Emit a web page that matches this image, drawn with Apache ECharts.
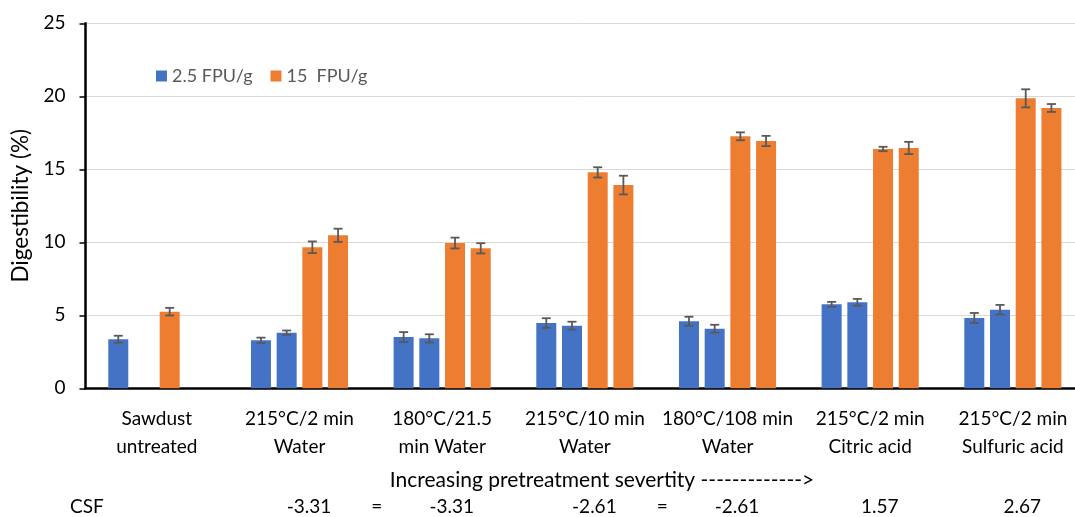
<!DOCTYPE html>
<html>
<head>
<meta charset="utf-8">
<script src="https://cdn.jsdelivr.net/npm/echarts@6/dist/echarts.min.js"></script>
<style>
  html, body { margin: 0; padding: 0; background: #fff; }
  #chart { width: 1075px; height: 517px; }
</style>
</head>
<body>
<div id="chart"></div>
<script>
// Pretreatment conditions (x categories)
const categories = [
  'Sawdust\nuntreated',
  '215°C/2 min\nWater',
  '180°C/21.5\nmin Water',
  '215°C/10 min\nWater',
  '180°C/108 min\nWater',
  '215°C/2 min\nCitric acid',
  '215°C/2 min\nSulfuric acid'
];

// Combined severity factor shown under each condition
const csfLabels = ['', '-3.31', '-3.31', '-2.61', '-2.61', '1.57', '2.67'];
// Pairs of conditions with equal CSF (an "=" sits between them)
const equalPairs = [[1, 2], [3, 4]];

const yTicks = { min: 0, max: 25, step: 5 };

// Digestibility (%) — two replicates per enzyme loading
const low1 = [3.36, 3.29, 3.51, 4.47, 4.59, 5.75, 4.82];
const low2 = [null, 3.81, 3.42, 4.29, 4.08, 5.89, 5.38];
const high1 = [5.25, 9.66, 9.95, 14.79, 17.26, 16.39, 19.86];
const high2 = [null, 10.48, 9.59, 13.92, 16.94, 16.46, 19.20];

// Standard deviations
const low1Err = [0.24, 0.18, 0.34, 0.33, 0.31, 0.17, 0.34];
const low2Err = [null, 0.15, 0.28, 0.27, 0.27, 0.23, 0.33];
const high1Err = [0.26, 0.40, 0.37, 0.35, 0.27, 0.15, 0.62];
const high2Err = [null, 0.45, 0.35, 0.64, 0.35, 0.42, 0.27];

const LOW_NAME = '2.5 FPU/g';
const HIGH_NAME = '15  FPU/g';
const BLUE = '#4472C4';
const ORANGE = '#ED7D31';
const FONT = 'Lato, "Liberation Sans", sans-serif';

const BAR_W = 20;
const BAR_GAP = 0.285;               // fraction of bar width between bars
const STEP = BAR_W * (1 + BAR_GAP);  // centre-to-centre distance of bars in a group

const barSets = [
  { name: LOW_NAME, color: BLUE, values: low1, errors: low1Err },
  { name: LOW_NAME, color: BLUE, values: low2, errors: low2Err },
  { name: HIGH_NAME, color: ORANGE, values: high1, errors: high1Err },
  { name: HIGH_NAME, color: ORANGE, values: high2, errors: high2Err }
];

const barSeries = barSets.map(s => ({
  type: 'bar',
  name: s.name,
  data: s.values,
  barWidth: BAR_W,
  barGap: (BAR_GAP * 100) + '%',
  itemStyle: { color: s.color },
  xAxisIndex: 0,
  yAxisIndex: 0,
  z: 2
}));

// Whisker series drawn over each bar slot
const errorSeries = barSets.map((s, slot) => ({
  type: 'custom',
  name: 'err' + slot,
  xAxisIndex: 0,
  yAxisIndex: 0,
  z: 5,
  silent: true,
  data: s.values.map((v, i) => (v == null ? [i, null, null] : [i, v, s.errors[i]])),
  renderItem: function (params, api) {
    const v = api.value(1);
    const e = api.value(2);
    if (v == null || isNaN(v) || e == null || isNaN(e)) return;
    const off = (slot - (barSets.length - 1) / 2) * STEP;
    const top = api.coord([api.value(0), v + e]);
    const bot = api.coord([api.value(0), v - e]);
    const x = top[0] + off;
    const cap = 4.5;
    const style = { stroke: '#595959', lineWidth: 1.8 };
    return {
      type: 'group',
      children: [
        { type: 'line', shape: { x1: x, y1: top[1], x2: x, y2: bot[1] }, style: style },
        { type: 'line', shape: { x1: x - cap, y1: top[1], x2: x + cap, y2: top[1] }, style: style },
        { type: 'line', shape: { x1: x - cap, y1: bot[1], x2: x + cap, y2: bot[1] }, style: style }
      ]
    };
  },
  encode: { x: 0, y: 1 }
}));

const chart = echarts.init(document.getElementById('chart'), null, { renderer: 'canvas' });

const option = {
  animation: false,
  backgroundColor: '#fff',
  textStyle: { fontFamily: FONT },
  // plot area runs a little past the right edge of the canvas
  grid: {
    left: 85.5, width: 998.7, top: 23.3, bottom: 128.7,
    containLabel: false,
    outerBoundsMode: 'none'
  },
  legend: {
    data: [LOW_NAME, HIGH_NAME],
    left: 151,
    top: 62,
    icon: 'rect',
    itemWidth: 11,
    itemHeight: 11,
    itemGap: 18,
    textStyle: { fontFamily: FONT, fontSize: 18, color: '#595959' }
  },
  xAxis: [
    {
      type: 'category',
      data: categories,
      axisLine: { lineStyle: { color: '#000', width: 2.5 } },
      axisTick: { show: false },
      axisLabel: {
        interval: 0,
        margin: 17,
        fontFamily: FONT,
        fontSize: 19,
        lineHeight: 28,
        color: '#000'
      }
    },
    {
      type: 'category',
      data: csfLabels,
      position: 'bottom',
      offset: 100,
      axisLine: { show: false },
      axisTick: { show: false },
      axisLabel: {
        interval: 0,
        margin: 9,
        padding: [0, 0, 0, 19],
        fontFamily: FONT,
        fontSize: 19,
        color: '#000'
      }
    }
  ],
  yAxis: {
    type: 'value',
    min: yTicks.min,
    max: yTicks.max,
    interval: yTicks.step,
    name: 'Digestibility (%)',
    nameLocation: 'middle',
    nameGap: 52,
    nameTextStyle: { fontFamily: FONT, fontSize: 22.5, color: '#000' },
    axisLine: { show: true, lineStyle: { color: '#000', width: 2.5 } },
    axisTick: { show: true, length: 6, lineStyle: { color: '#000', width: 1.5 } },
    axisLabel: { margin: 20, fontFamily: FONT, fontSize: 19, color: '#000' },
    splitLine: { lineStyle: { color: '#d9d9d9', width: 1 } }
  },
  series: barSeries.concat(errorSeries)
};

chart.setOption(option);

// Annotations below the axis: severity arrow, CSF caption and "=" between equal CSF values
const graphics = [
  {
    type: 'text',
    x: 602,
    y: 480,
    style: {
      text: 'Increasing pretreatment severtity ------------->',
      font: '21px ' + FONT, fill: '#000', align: 'center', verticalAlign: 'middle'
    }
  },
  {
    type: 'text',
    x: 70,
    y: 507,
    style: { text: 'CSF', font: '19px ' + FONT, fill: '#000', verticalAlign: 'middle' }
  }
];
equalPairs.forEach(([a, b]) => {
  const xa = chart.convertToPixel({ xAxisIndex: 0 }, a);
  const xb = chart.convertToPixel({ xAxisIndex: 0 }, b);
  graphics.push({
    type: 'text',
    x: (xa + xb) / 2 + 6,
    y: 507,
    style: { text: '=', font: '19px ' + FONT, fill: '#000', align: 'center', verticalAlign: 'middle' }
  });
});
chart.setOption({ graphic: graphics });
</script>
</body>
</html>
